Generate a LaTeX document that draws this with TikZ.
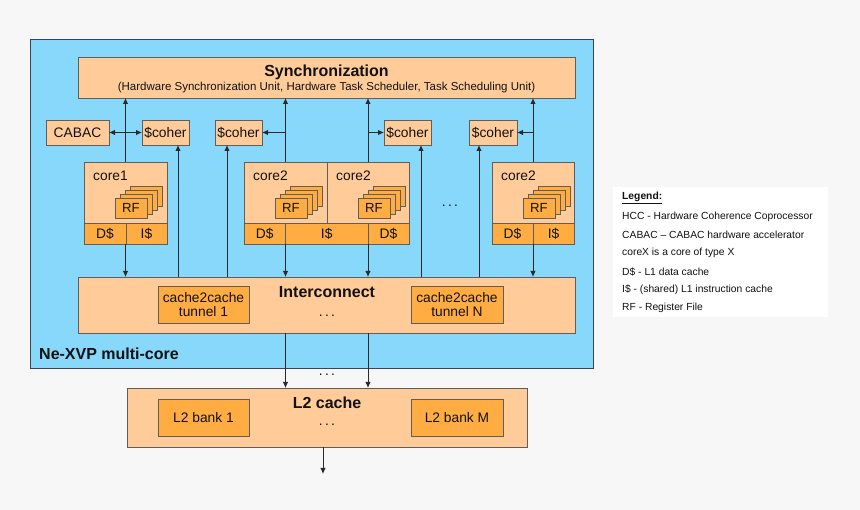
\documentclass[tikz,border=0pt]{standalone}
\usepackage{fontspec}
\setmainfont{Liberation Sans}
\usetikzlibrary{arrows.meta}
\definecolor{bgc}{HTML}{F7F7F7}
\definecolor{bluec}{HTML}{88D8FC}
\definecolor{peach}{HTML}{FFCC99}
\definecolor{orng}{HTML}{FFAC42}
\definecolor{bordc}{HTML}{5E5E5E}
\definecolor{bluebord}{HTML}{3A4550}
\definecolor{linec}{HTML}{2A2A2A}
\definecolor{txtc}{HTML}{111111}
\newcommand\bx[7]{\node[#1, minimum width={(#5-#3)*1pt}, minimum height={(#6-#4)*1pt}] (#2) at ({(#3+#5)/2},{(#4+#6)/2}) {#7};}
\newcommand\RFstack[3]{%
  \foreach \k in {3,2,1} {\node[sub, minimum width=32pt, minimum height=20pt] (#1-\k) at ({#2+5*\k},{#3-4*\k}) {};}
  \node[sub, lbl, font=\fontsize{13.2}{15}\selectfont, minimum width=32pt, minimum height=20pt] (#1) at (#2,#3) {RF};
}
\tikzset{
  blk/.style={draw=bordc, line width=0.9pt, fill=peach, inner sep=0pt, outer sep=0pt, text=txtc},
  sub/.style={blk, fill=orng},
  bluebox/.style={draw=bluebord, line width=1pt, fill=bluec, inner sep=0pt, outer sep=0pt},
  legbox/.style={fill=white, inner sep=0pt, outer sep=0pt},
  arr/.style={draw=linec, line width=0.95pt, -{Latex[length=6pt,width=5.5pt]}},
  barr/.style={draw=linec, line width=0.95pt, {Latex[length=6pt,width=5.5pt]}-{Latex[length=6pt,width=5.5pt]}},
  lbl/.style={font=\fontsize{13.8}{15}\selectfont, inner sep=0pt, text=txtc},
  bld/.style={font=\fontsize{16}{18}\selectfont\bfseries, inner sep=0pt, text=txtc},
  leg/.style={font=\fontsize{10.3}{12}\selectfont, inner sep=0pt, anchor=west, text=txtc},
}
\begin{document}
\begin{tikzpicture}[x=1pt,y=-1pt]
\useasboundingbox (0,0) rectangle (860,510);
\fill[bgc] (0,0) rectangle (860,510);

% outer multi-core box
\bx{bluebox}{mc}{30}{40}{593}{369}{}
\node[bld, anchor=west] (mct) at (39,354) {Ne-XVP multi-core};

% synchronization
\bx{blk}{sync}{78}{57}{575}{98}{}
\node[bld] (synct) at (326.5,72) {Synchronization};
\node[font=\fontsize{11.5}{13}\selectfont, inner sep=0pt, text=txtc] (syncs) at (326.5,88) {(Hardware Synchronization Unit, Hardware Task Scheduler, Task Scheduling Unit)};

% CABAC and coherence units
\bx{blk,lbl}{cabac}{46}{120}{109}{145}{CABAC}
\bx{blk,lbl}{coh1}{142}{120}{189}{145}{\$coher}
\bx{blk,lbl}{coh2}{215}{120}{262}{145}{\$coher}
\bx{blk,lbl}{coh3}{384}{120}{431}{145}{\$coher}
\bx{blk,lbl}{coh4}{469}{120}{517}{145}{\$coher}

% core1
\bx{blk}{c1}{84}{162}{167}{223}{}
\bx{sub,lbl}{d1}{84}{223}{126}{244}{D\$}
\bx{sub,lbl}{i1}{126}{223}{167}{244}{I\$}
\node[lbl, anchor=west] (c1t) at (93,176) {core1};
\RFstack{rf1}{131}{208}

% double core2
\bx{blk}{c2a}{244}{162}{327}{223}{}
\bx{blk}{c2b}{327}{162}{409}{223}{}
\bx{sub,lbl}{d2a}{244}{223}{285.5}{244}{D\$}
\bx{sub,lbl}{i2}{285.5}{223}{368}{244}{I\$}
\bx{sub,lbl}{d2b}{368}{223}{409}{244}{D\$}
\node[lbl, anchor=west] (c2at) at (253,176) {core2};
\node[lbl, anchor=west] (c2bt) at (336,176) {core2};
\RFstack{rf2}{291}{208}
\RFstack{rf3}{374}{208}

\node[lbl] (cdots) at (450,206) {.\,.\,.};

% core2 right
\bx{blk}{c3}{492}{162}{574}{223}{}
\bx{sub,lbl}{d3}{492}{223}{533}{244}{D\$}
\bx{sub,lbl}{i3}{533}{223}{574}{244}{I\$}
\node[lbl, anchor=west] (c3t) at (501,176) {core2};
\RFstack{rf4}{539}{208}

% interconnect
\bx{blk}{ic}{78}{277}{575}{333}{}
\node[bld] (ict) at (327,292) {Interconnect};
\node[lbl] (icdots) at (327,316) {.\,.\,.};
\bx{sub,lbl,align=center}{t1}{158}{286}{249}{323}{cache2cache\\[-1pt]tunnel 1}
\bx{sub,lbl,align=center}{tN}{411}{286}{503}{323}{cache2cache\\[-1pt]tunnel N}

% L2 cache
\node[lbl] (mdots) at (327,375) {.\,.\,.};
\bx{blk}{l2}{127}{388}{527}{447}{}
\node[bld] (l2t) at (327,403) {L2 cache};
\node[lbl] (l2dots) at (327,425) {.\,.\,.};
\bx{sub,lbl}{b1}{158}{399}{249}{436}{L2 bank 1}
\bx{sub,lbl}{bM}{411}{399}{503}{436}{L2 bank M}

% connectors to synchronization
\draw[arr] (c1.north) -- (c1.north |- sync.south);
\draw[arr] (c2a.north) -- (c2a.north |- sync.south);
\draw[arr] (c2b.north) -- (c2b.north |- sync.south);
\draw[arr] (c3.north) -- (c3.north |- sync.south);
\draw[barr] (cabac.east) -- (coh1.west);
\draw[arr] (c2a.north |- coh2.east) -- (coh2.east);
\draw[arr] (c2b.north |- coh3.west) -- (coh3.west);
\draw[arr] (c3.north |- coh4.east) -- (coh4.east);

% interconnect to coherence units
\coordinate (k1) at (178,0);
\coordinate (k2) at (227,0);
\coordinate (k3) at (421,0);
\coordinate (k4) at (479,0);
\draw[arr] (k1 |- ic.north) -- (k1 |- coh1.south);
\draw[arr] (k2 |- ic.north) -- (k2 |- coh2.south);
\draw[arr] (k3 |- ic.north) -- (k3 |- coh3.south);
\draw[arr] (k4 |- ic.north) -- (k4 |- coh4.south);

% cores to interconnect
\draw[arr] (c1.north |- d1.south) -- (c1.north |- ic.north);
\draw[arr] (c2a.north |- d2a.south) -- (c2a.north |- ic.north);
\draw[arr] (c2b.north |- d2b.south) -- (c2b.north |- ic.north);
\draw[arr] (c3.north |- d3.south) -- (c3.north |- ic.north);

% interconnect to L2
\draw[arr] (c2a.north |- ic.south) -- (c2a.north |- l2.north);
\draw[arr] (c2b.north |- ic.south) -- (c2b.north |- l2.north);
\coordinate (out) at (323,474);
\draw[arr] (out |- l2.south) -- (out);

% legend
\bx{legbox}{legb}{613}{187}{828}{317}{}
\node[leg, font=\fontsize{10.3}{12}\selectfont\bfseries] (lg0) at (622,198) {\underline{Legend:}};
\node[leg] (lg1) at (622,217) {HCC - Hardware Coherence Coprocessor};
\node[leg] (lg2) at (622,235) {CABAC -- CABAC hardware accelerator};
\node[leg] (lg3) at (622,253) {coreX is a core of type X};
\node[leg] (lg4) at (622,272) {D\$ - L1 data cache};
\node[leg] (lg5) at (622,290) {I\$ - (shared) L1 instruction cache};
\node[leg] (lg6) at (622,308) {RF - Register File};
\end{tikzpicture}
\end{document}
